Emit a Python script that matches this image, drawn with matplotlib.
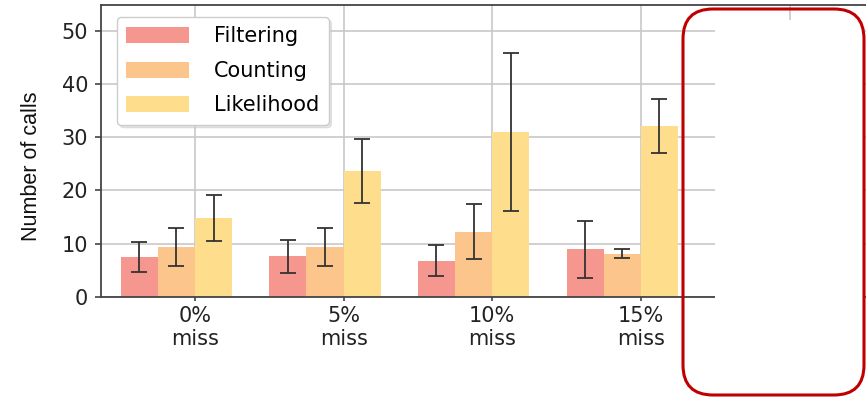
import numpy as np
import matplotlib
matplotlib.use('Agg')
import matplotlib.pyplot as plt
from matplotlib.patches import Rectangle, FancyBboxPatch

# data
categories = ['0%\nmiss', '5%\nmiss', '10%\nmiss', '15%\nmiss']
filtering = [7.4, 7.6, 6.8, 8.9]
filtering_err = [2.8, 3.1, 3.0, 5.3]
counting = [9.3, 9.3, 12.2, 8.1]
counting_err = [3.6, 3.6, 5.2, 0.8]
likelihood = [14.8, 23.6, 31.0, 32.1]
likelihood_err = [4.3, 6.0, 14.9, 5.1]

series = [('Filtering', filtering, filtering_err, '#F5968F'),
          ('Counting', counting, counting_err, '#FBC58C'),
          ('Likelihood', likelihood, likelihood_err, '#FEDD8D')]

fig = plt.figure(figsize=(8.66, 3.98), dpi=100)
# axes runs past the right edge of the image (hidden part of the slide)
ax = fig.add_axes([100.7 / 866, 101.3 / 398, 778 / 866, 291.4 / 398])

x = np.arange(len(categories))
width = 0.25
offsets = [-0.375, -0.125, 0.125]
for (name, vals, errs, col), off in zip(series, offsets):
    ax.bar(x + off, vals, width, yerr=errs, color=col, label=name,
           linewidth=0, zorder=2,
           error_kw=dict(ecolor='#333333', elinewidth=1.3, capsize=5.5,
                         capthick=1.3, zorder=3))

ax.set_xlim(-0.634, 4.6)
ax.set_ylim(0, 54.8)
ax.set_yticks([0, 10, 20, 30, 40, 50])
ax.set_xticks(list(x) + [len(categories)])
ax.set_xticklabels(categories + [''])
ax.grid(True, color='#c8c8c8', linewidth=1.2, zorder=0)
ax.set_axisbelow(True)

for s in ax.spines.values():
    s.set_color('#444444')
    s.set_linewidth(1.3)

ax.tick_params(axis='y', labelsize=15, length=4, width=1.2,
               color='#444444', labelcolor='#222222', pad=5)
ax.tick_params(axis='x', labelsize=15, length=3, width=1.2,
               color='#444444', labelcolor='#222222', pad=4)
for lab in ax.get_xticklabels():
    lab.set_linespacing(1.15)

ax.set_ylabel('Number of calls', fontsize=15.5,
              family=['Liberation Sans', 'DejaVu Sans'], color='#111111')
ax.yaxis.set_label_coords(-0.076, 0.4485)

leg = ax.legend(loc='upper left', bbox_to_anchor=(0.021, 0.96),
                borderaxespad=0, fontsize=15, handlelength=3.0,
                handleheight=0.82, handletextpad=1.2, labelspacing=0.7,
                borderpad=0.45, fancybox=True, framealpha=1,
                shadow={'color': '0.8', 'alpha': 0.5})
leg.get_frame().set_edgecolor('#cccccc')
leg.get_frame().set_linewidth(1.0)

# white cover and red rounded box on the right (as in the reference slide)
fig.patches.append(Rectangle((7.15, 0.0), 1.48, 3.78, facecolor='white',
                             edgecolor='none', transform=fig.dpi_scale_trans,
                             figure=fig, zorder=5))
fig.patches.append(FancyBboxPatch((6.83, 0.03), 1.81, 3.86,
                                  boxstyle='round,pad=0,rounding_size=0.3',
                                  facecolor='none', edgecolor='#C00000',
                                  linewidth=2.2, transform=fig.dpi_scale_trans,
                                  figure=fig, zorder=6))

fig.savefig('out.png', dpi=100)
